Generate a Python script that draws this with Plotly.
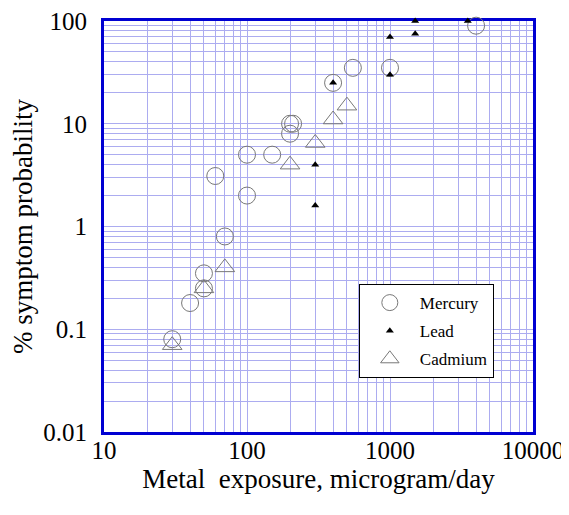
import plotly.graph_objects as go

mercury_x = [30, 40, 50, 50, 70, 60, 100, 100, 150, 200, 200, 210, 400, 550, 1000, 4000]
mercury_y = [0.08, 0.18, 0.25, 0.35, 0.8, 3.1, 5, 2, 5, 8, 10, 10, 25, 35, 35, 90]

lead_x = [400, 300, 300, 1000, 1000, 1500, 1500, 3500]
lead_y = [25, 4, 1.6, 70, 30, 100, 75, 100]

cadmium_x = [30, 50, 70, 200, 300, 400, 500]
cadmium_y = [0.07, 0.25, 0.4, 4, 6.5, 11, 15]

x_ticks = [10, 100, 1000, 10000]
x_ticklabels = ["10", "100", "1000", "10000"]
y_ticks = [0.01, 0.1, 1, 10, 100]
y_ticklabels = ["0.01", "0.1", "1", "10", "100"]

FONT = "Liberation Serif, Times New Roman, serif"
GRID = "rgb(172,172,240)"
FRAME = "rgb(0,0,210)"

fig = go.Figure()
fig.add_trace(go.Scatter(x=mercury_x, y=mercury_y, mode="markers", name="Mercury",
                         legendgroup="a", cliponaxis=False,
                         marker=dict(symbol="circle-open", size=17, color="rgb(120,120,120)",
                                     line=dict(width=1))))
fig.add_trace(go.Scatter(x=lead_x, y=lead_y, mode="markers", name="Lead",
                         legendgroup="b", cliponaxis=False,
                         marker=dict(symbol="triangle-up", size=7, color="black")))
fig.add_trace(go.Scatter(x=cadmium_x, y=cadmium_y, mode="markers", name="Cadmium",
                         legendgroup="c", cliponaxis=False,
                         marker=dict(symbol="triangle-up-open", size=17, color="rgb(120,120,120)",
                                     line=dict(width=1))))

axis_common = dict(type="log", showgrid=True, gridcolor=GRID, gridwidth=1,
                   showline=True, linecolor=FRAME, linewidth=3, mirror=True,
                   zeroline=False, ticks="", ticklen=0, automargin=False,
                   ticklabeloverflow="allow", layer="below traces",
                   tickfont=dict(family=FONT, size=25, color="black"),
                   minor=dict(showgrid=True, gridcolor=GRID, gridwidth=1, dtick="D1"))

fig.update_xaxes(range=[1, 4], tickmode="array", tickvals=x_ticks, ticktext=x_ticklabels,
                 ticklabelstandoff=-6,
                 title=dict(text="Metal  exposure, microgram/day",
                            font=dict(family=FONT, size=27, color="black"), standoff=2),
                 **axis_common)
fig.update_yaxes(range=[-2, 2], tickmode="array", tickvals=y_ticks, ticktext=y_ticklabels,
                 ticklabelstandoff=9,
                 title=dict(text="% symptom probability",
                            font=dict(family=FONT, size=27, color="black"), standoff=4),
                 **axis_common)

fig.update_layout(
    width=569, height=515,
    margin=dict(l=96, r=44, t=13, b=91),
    paper_bgcolor="white", plot_bgcolor="white",
    showlegend=True,
    legend=dict(x=0.594, y=0.36, xanchor="left", yanchor="top",
                bgcolor="white", bordercolor="black", borderwidth=1,
                font=dict(family=FONT, size=17, color="black"),
                traceorder="grouped", tracegroupgap=3, itemwidth=50),
)

fig.write_html("out.html")
